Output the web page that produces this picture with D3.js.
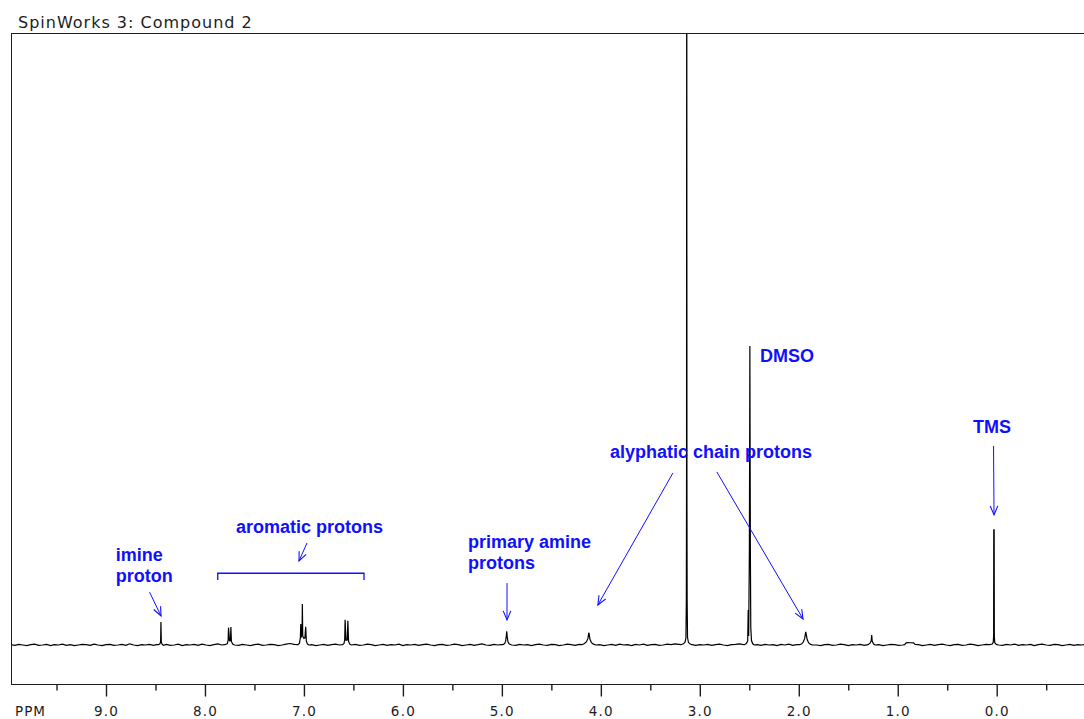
<!DOCTYPE html>
<html>
<head>
<meta charset="utf-8">
<script src="https://cdn.jsdelivr.net/npm/d3@7"></script>
<style>
  body { margin: 0; background: #fff; }
  svg { display: block; }
</style>
</head>
<body>
<svg id="chart" width="1084" height="719"></svg>
<script>
// ---- Spectrum data -------------------------------------------------------
const chartTitle = "SpinWorks 3: Compound 2";
const axisName = "PPM";
const majorTicks = [9, 8, 7, 6, 5, 4, 3, 2, 1, 0];
const minorTicks = [9.5, 8.5, 7.5, 6.5, 5.5, 4.5, 3.5, 2.5, 1.5, 0.5, -0.5];

// 1H trace: [chemical shift (ppm), intensity (DMSO = 100)]
const spectrum = [
  [9.96,0.1],[9.92,-0.1],[9.88,0.2],[9.84,0.0],[9.80,-0.2],[9.76,0.1],[9.72,0.3],[9.68,-0.1],
  [9.64,0.0],[9.60,0.2],[9.56,-0.2],[9.52,0.1],[9.48,0.0],[9.44,0.3],[9.40,-0.1],[9.36,0.1],
  [9.32,-0.2],[9.28,0.0],[9.24,0.2],[9.20,0.1],[9.16,-0.1],[9.12,0.3],[9.08,0.0],[9.04,-0.2],
  [9.00,0.1],[8.96,0.2],[8.92,-0.1],[8.88,0.0],[8.84,0.2],[8.80,-0.1],[8.76,0.4],[8.72,0.0],
  [8.68,-0.2],[8.64,0.1],[8.60,0.0],[8.56,0.2],[8.52,-0.1],[8.49,0.1],
  // imine CH=N
  [8.47,0.1],[8.455,0.4],[8.448,1.2],[8.445,7.7],[8.441,1.0],[8.434,0.3],[8.42,-0.1],
  [8.39,0.2],[8.35,-0.1],[8.31,0.0],[8.27,0.3],[8.23,-0.2],[8.19,0.1],[8.15,0.0],[8.11,0.2],
  [8.07,-0.1],[8.03,0.3],[7.99,0.0],[7.95,-0.2],[7.91,0.1],[7.87,0.4],[7.83,0.0],
  // aromatic doublet
  [7.80,0.1],[7.775,0.4],[7.766,1.5],[7.762,5.8],[7.752,1.4],[7.742,1.5],[7.738,6.0],
  [7.733,1.2],[7.72,0.3],[7.70,0.0],
  [7.66,-0.1],[7.62,0.2],[7.58,0.0],[7.54,-0.2],[7.50,0.1],[7.46,0.3],[7.42,-0.1],[7.38,0.0],
  [7.34,0.2],[7.30,0.1],[7.26,-0.2],[7.22,0.0],[7.18,0.3],[7.14,0.5],[7.10,0.2],
  // aromatic multiplet near 7.0
  [7.06,0.1],[7.045,0.6],[7.036,2.5],[7.032,7.0],[7.026,2.8],[7.019,3.2],[7.016,13.7],
  [7.012,3.0],[7.0,2.2],[6.99,2.4],[6.982,6.1],[6.976,1.4],[6.965,0.3],[6.95,0.0],
  [6.92,0.1],[6.88,-0.2],[6.84,0.0],[6.80,0.2],[6.76,-0.1],[6.72,0.1],[6.68,0.3],[6.64,0.0],
  // aromatic doublet near 6.57
  [6.61,0.1],[6.595,0.5],[6.588,1.8],[6.584,8.4],[6.575,1.6],[6.562,1.7],[6.556,8.1],
  [6.549,1.2],[6.535,0.2],[6.52,0.0],
  [6.48,0.2],[6.44,-0.1],[6.40,0.0],[6.36,0.3],[6.32,0.1],[6.28,-0.2],[6.24,0.0],[6.20,0.2],
  [6.16,-0.1],[6.12,0.1],[6.08,0.0],[6.04,0.3],[6.00,-0.2],[5.96,0.1],[5.92,0.0],[5.88,0.2],
  [5.84,-0.1],[5.80,0.1],[5.76,0.3],[5.72,0.0],[5.68,-0.2],[5.64,0.1],[5.60,0.2],[5.56,-0.1],
  [5.52,0.0],[5.48,0.3],[5.44,0.1],[5.40,-0.2],[5.36,0.0],[5.32,0.2],[5.28,-0.1],[5.24,0.1],
  [5.20,0.4],[5.16,0.0],[5.12,-0.1],[5.08,0.2],[5.04,0.0],[5.01,0.1],
  // NH2
  [4.99,0.1],[4.972,0.5],[4.962,1.2],[4.955,3.0],[4.951,4.6],[4.946,2.8],[4.938,1.0],
  [4.925,0.3],[4.90,0.0],
  [4.86,-0.1],[4.82,0.2],[4.78,0.0],[4.74,0.1],[4.70,-0.2],[4.66,0.1],[4.62,0.3],[4.58,0.0],
  [4.54,-0.1],[4.50,0.2],[4.46,0.1],[4.42,-0.2],[4.38,0.0],[4.34,0.3],[4.30,0.1],[4.26,-0.1],
  [4.22,0.2],
  // chain CH2 near 4.1
  [4.19,0.1],[4.165,0.5],[4.145,1.1],[4.13,2.2],[4.122,4.1],[4.118,3.7],[4.11,1.9],
  [4.095,0.8],[4.075,0.3],[4.05,0.0],
  [4.01,0.1],[3.97,-0.2],[3.93,0.0],[3.89,0.2],[3.85,-0.1],[3.81,0.3],[3.77,0.0],[3.73,0.1],
  [3.69,-0.2],[3.65,0.2],[3.61,0.0],[3.57,0.3],[3.53,-0.1],[3.49,0.1],[3.45,0.2],[3.41,-0.1],
  [3.37,0.0],[3.33,0.3],[3.29,0.1],[3.25,0.4],[3.21,0.2],
  // large singlet near 3.13 (runs off scale)
  [3.19,0.1],[3.165,0.4],[3.148,1.0],[3.14,2.5],[3.136,15],[3.134,51],[3.132,300],
  [3.130,51],[3.128,15],[3.124,2.5],[3.115,0.9],[3.10,0.4],[3.08,0.1],
  [3.04,-0.1],[3.00,0.1],[2.96,0.0],[2.92,0.2],[2.88,-0.1],[2.84,0.1],[2.80,0.3],[2.76,0.0],
  [2.72,-0.2],[2.68,0.1],[2.64,0.2],[2.60,0.4],[2.57,0.2],
  // DMSO
  [2.55,0.1],[2.53,0.5],[2.516,1.3],[2.511,11.7],[2.506,3],[2.499,32],[2.496,70],
  [2.494,100],[2.492,70],[2.489,32],[2.485,6],[2.478,1.5],[2.465,0.4],[2.45,0.0],
  [2.42,0.1],[2.38,-0.1],[2.34,0.2],[2.30,0.0],[2.26,0.1],[2.22,-0.2],[2.18,0.2],[2.14,0.0],
  [2.10,0.3],[2.06,-0.1],[2.02,0.1],
  // chain CH2 near 1.93
  [1.99,0.1],[1.97,0.4],[1.955,1.0],[1.94,2.2],[1.93,4.4],[1.925,3.6],[1.915,1.8],
  [1.90,0.7],[1.88,0.2],[1.86,0.0],
  [1.82,0.0],[1.78,-0.2],[1.74,0.1],[1.70,0.2],[1.66,-0.1],[1.62,0.0],[1.58,0.3],[1.54,0.1],
  [1.50,-0.2],[1.46,0.1],[1.42,0.0],[1.38,0.2],[1.34,-0.1],
  [1.30,0.1],[1.28,0.6],[1.268,1.4],[1.263,3.3],[1.258,1.3],[1.245,0.4],[1.23,0.0],
  [1.19,0.1],[1.15,-0.2],[1.11,0.0],[1.07,0.2],[1.03,0.1],[0.99,-0.1],[0.95,0.0],
  [0.93,0.1],[0.915,0.7],[0.895,0.8],[0.87,0.75],[0.84,0.7],[0.825,0.2],
  [0.79,0.1],[0.75,-0.2],[0.71,0.0],[0.67,0.2],[0.63,-0.1],[0.59,0.1],[0.55,0.3],[0.51,0.0],
  [0.47,-0.2],[0.43,0.1],[0.39,0.2],[0.35,-0.1],[0.31,0.0],[0.27,0.3],[0.23,0.1],[0.19,-0.2],
  [0.15,0.0],[0.11,0.2],
  // TMS
  [0.07,0.1],[0.045,0.3],[0.035,0.9],[0.031,3],[0.0295,38.5],[0.0255,38.5],[0.024,3],
  [0.02,0.8],[0.005,0.2],[-0.02,0.0],
  [-0.06,-0.1],[-0.10,0.2],[-0.14,0.0],[-0.18,0.3],[-0.22,-0.1],[-0.26,0.1],[-0.30,0.0],
  [-0.34,0.2],[-0.38,-0.2],[-0.42,0.1],[-0.46,0.3],[-0.50,0.0],[-0.54,-0.1],[-0.58,0.2],
  [-0.62,0.1],[-0.66,-0.2],[-0.70,0.0],[-0.74,0.2],[-0.78,-0.1],[-0.82,0.1],[-0.86,0.0],
  [-0.90,0.2]
];

// Assignment labels: left edge (ppm) and baseline (intensity)
const labels = [
  { text: "imine",                   ppm: 8.902, level: 28.1 },
  { text: "proton",                  ppm: 8.902, level: 21.1 },
  { text: "aromatic protons",        ppm: 7.686, level: 37.5 },
  { text: "primary amine",           ppm: 5.342, level: 32.4 },
  { text: "protons",                 ppm: 5.342, level: 25.4 },
  { text: "alyphatic chain protons", ppm: 3.907, level: 62.5 },
  { text: "DMSO",                    ppm: 2.392, level: 94.6 },
  { text: "TMS",                     ppm: 0.239, level: 70.9 }
];

// Pointer arrows: tail -> head, in [ppm, intensity]
const arrows = [
  { from: [8.560, 17.7], to: [8.444, 9.7] },
  { from: [6.969, 34.1], to: [7.050, 28.1] },
  { from: [4.948, 20.7], to: [4.948, 8.4] },
  { from: [3.272, 57.5], to: [4.030, 13.4] },
  { from: [2.828, 57.9], to: [1.957, 8.7] },
  { from: [0.032, 66.6], to: [0.027, 43.5] }
];

// Bracket spanning the aromatic region
const bracketSpan = [7.871, 6.393];
const bracketLevels = [24.0, 21.7];

// ---- Layout ----------------------------------------------------------------
const W = 1084, H = 719;
const frame = { left: 11, top: 33, bottom: 684, right: 1100 };
const ink = "#1c1c1c";
const blue = "#1010ff";

const svg = d3.select("#chart");

const x = d3.scaleLinear().domain([9, 0]).range([106, 996.7]);
const y = d3.scaleLinear().domain([0, 100]).range([645, 346]);

// Title
svg.append("text")
  .attr("x", 18).attr("y", 27.5)
  .attr("font-family", "DejaVu Sans, Verdana, sans-serif")
  .attr("font-size", 16)
  .attr("letter-spacing", "1px")
  .attr("fill", ink)
  .text(chartTitle);

// Plot frame
svg.append("rect")
  .attr("x", frame.left + 0.5).attr("y", frame.top + 0.5)
  .attr("width", frame.right - frame.left).attr("height", frame.bottom - frame.top)
  .attr("fill", "none").attr("stroke", ink).attr("stroke-width", 1);

svg.append("clipPath").attr("id", "plot-clip")
  .append("rect")
  .attr("x", frame.left + 1).attr("y", frame.top + 1)
  .attr("width", W - frame.left).attr("height", frame.bottom - frame.top - 1);

// Spectrum trace
const line = d3.line().x(d => x(d[0])).y(d => y(d[1]));
svg.append("g").attr("clip-path", "url(#plot-clip)")
  .append("path")
  .datum(spectrum)
  .attr("d", line)
  .attr("fill", "none")
  .attr("stroke", "#000")
  .attr("stroke-width", 1.2)
  .attr("stroke-linejoin", "miter");

// Shift axis: major ticks with labels, minor ticks without
const axisY = frame.bottom + 0.5;
const majorAxis = svg.append("g")
  .attr("transform", `translate(0,${axisY})`)
  .call(d3.axisBottom(x).tickValues(majorTicks).tickSize(12).tickFormat(d3.format(".1f")));
const minorAxis = svg.append("g")
  .attr("transform", `translate(0,${axisY})`)
  .call(d3.axisBottom(x).tickValues(minorTicks).tickSize(6).tickFormat(""));

[majorAxis, minorAxis].forEach(g => {
  g.select(".domain").remove();
  g.selectAll(".tick line").attr("stroke", ink).attr("stroke-width", 1.4);
});
majorAxis.selectAll(".tick text")
  .attr("y", 31.5).attr("dy", 0)
  .attr("font-family", "DejaVu Sans, Verdana, sans-serif")
  .attr("font-size", 13.5)
  .attr("letter-spacing", "1.2px")
  .attr("fill", ink);

svg.append("text")
  .attr("x", 15).attr("y", axisY + 31.5)
  .attr("font-family", "DejaVu Sans, Verdana, sans-serif")
  .attr("font-size", 13.5)
  .attr("letter-spacing", "1px")
  .attr("fill", ink)
  .text(axisName);

// Annotations
const defs = svg.append("defs");
defs.append("marker")
  .attr("id", "open-head")
  .attr("viewBox", "-10 -5 12 10")
  .attr("refX", 0).attr("refY", 0)
  .attr("markerWidth", 12).attr("markerHeight", 10)
  .attr("markerUnits", "userSpaceOnUse")
  .attr("orient", "auto")
  .append("path")
  .attr("d", "M-9,-3.8L0,0L-9,3.8")
  .attr("fill", "none")
  .attr("stroke", blue)
  .attr("stroke-width", 1.1);

const notes = svg.append("g");
notes.selectAll("line.arrow")
  .data(arrows)
  .join("line")
  .attr("class", "arrow")
  .attr("x1", d => x(d.from[0])).attr("y1", d => y(d.from[1]))
  .attr("x2", d => x(d.to[0])).attr("y2", d => y(d.to[1]))
  .attr("stroke", blue).attr("stroke-width", 1)
  .attr("marker-end", "url(#open-head)");

notes.append("path")
  .attr("d", d3.line()([
    [x(bracketSpan[0]), y(bracketLevels[1])],
    [x(bracketSpan[0]), y(bracketLevels[0])],
    [x(bracketSpan[1]), y(bracketLevels[0])],
    [x(bracketSpan[1]), y(bracketLevels[1])]
  ]))
  .attr("fill", "none").attr("stroke", blue).attr("stroke-width", 1.3);

notes.selectAll("text")
  .data(labels)
  .join("text")
  .attr("x", d => x(d.ppm)).attr("y", d => y(d.level))
  .attr("font-family", "Liberation Sans, Arial, sans-serif")
  .attr("font-weight", "bold")
  .attr("font-size", 18)
  .attr("fill", blue)
  .text(d => d.text);
</script>
</body>
</html>
